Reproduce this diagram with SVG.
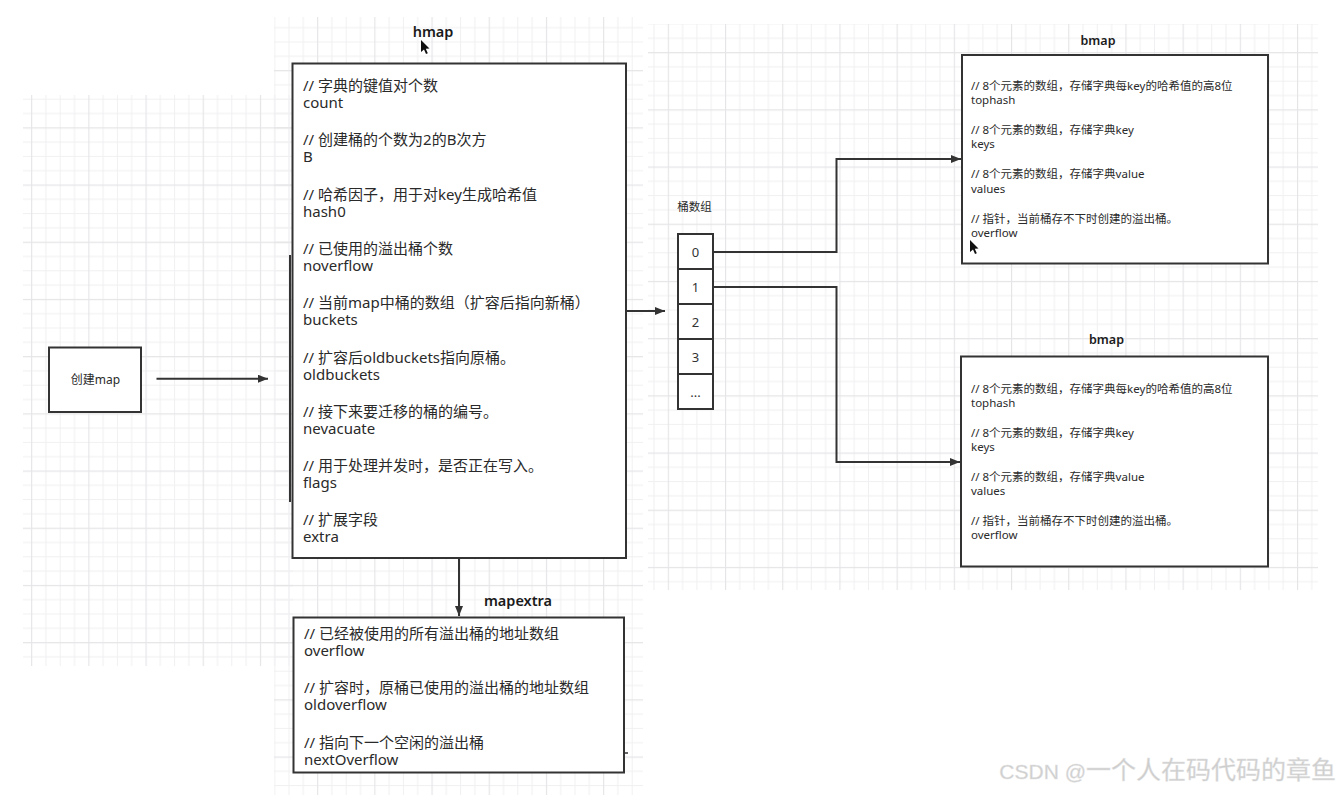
<svg xmlns="http://www.w3.org/2000/svg" width="1343" height="795" viewBox="0 0 1343 795">
<style>
.t{font-family:"Noto Sans","Noto Sans CJK SC",sans-serif;fill:#2a2a2a}
.b15{font-size:15px}
.b12{font-size:11.5px}
.title{font-weight:600;fill:#1a1a1a}
.box{fill:#fff;stroke:#333;stroke-width:2}
.cell{fill:#fff;stroke:#333;stroke-width:2}
.edge{fill:none;stroke:#333;stroke-width:2}
.num{font-family:"Noto Sans",sans-serif;font-size:13px;fill:#333;text-anchor:middle}
</style>
<defs>
<pattern id="grid" width="57.2" height="57.2" patternUnits="userSpaceOnUse" x="31.1" y="12.9">
<path d="M14.8 0V57.2M29.1 0V57.2M43.4 0V57.2M0 14.8H57.2M0 29.1H57.2M0 43.4H57.2" stroke="#f0f0f2" stroke-width="1"/>
<path d="M0.5 0V57.2M0 0.5H57.2" stroke="#e5e5e8" stroke-width="1.3"/>
</pattern>
<pattern id="grid2" width="57.2" height="57.2" patternUnits="userSpaceOnUse" x="38.6" y="52.1">
<path d="M14.8 0V57.2M29.1 0V57.2M43.4 0V57.2M0 14.8H57.2M0 29.1H57.2M0 43.4H57.2" stroke="#f0f0f2" stroke-width="1"/>
<path d="M0.5 0V57.2M0 0.5H57.2" stroke="#e5e5e8" stroke-width="1.3"/>
</pattern>
<marker id="arr" viewBox="0 0 10 8" refX="10" refY="4" markerWidth="10" markerHeight="8" markerUnits="userSpaceOnUse" orient="auto">
<path d="M0,0 L10,4 L0,8 Z" fill="#333"/>
</marker>
</defs>
<rect width="1343" height="795" fill="#fff"/>
<g id="background">
<rect x="23" y="95" width="270" height="571" fill="url(#grid)"/>
<rect x="274" y="17" width="369" height="778" fill="url(#grid)"/>
<rect x="648" y="24" width="670" height="566" fill="url(#grid2)"/>
</g>

<g id="create-map">
<rect class="box" x="49" y="347.5" width="92" height="64.5"/>
<text class="t" font-size="12" x="95.5" y="383.5" text-anchor="middle">创建map</text>
</g>

<g id="hmap">
<text class="t title" x="433" y="37" text-anchor="middle" font-size="14.5">hmap</text>
<line x1="290" y1="255" x2="290" y2="502" stroke="#333" stroke-width="2"/>
<rect class="box" x="292.5" y="63.5" width="333.5" height="494.5"/>
<text class="t b15">
<tspan x="303" y="91">// 字典的键值对个数</tspan>
<tspan x="303" y="108">count</tspan>
<tspan x="303" y="145.3">// 创建桶的个数为2的B次方</tspan>
<tspan x="303" y="162.3">B</tspan>
<tspan x="303" y="199.6">// 哈希因子，用于对key生成哈希值</tspan>
<tspan x="303" y="216.6">hash0</tspan>
<tspan x="303" y="253.9">// 已使用的溢出桶个数</tspan>
<tspan x="303" y="270.9">noverflow</tspan>
<tspan x="303" y="308.2">// 当前map中桶的数组（扩容后指向新桶）</tspan>
<tspan x="303" y="325.2">buckets</tspan>
<tspan x="303" y="362.5">// 扩容后oldbuckets指向原桶。</tspan>
<tspan x="303" y="379.5">oldbuckets</tspan>
<tspan x="303" y="416.8">// 接下来要迁移的桶的编号。</tspan>
<tspan x="303" y="433.8">nevacuate</tspan>
<tspan x="303" y="471.1">// 用于处理并发时，是否正在写入。</tspan>
<tspan x="303" y="488.1">flags</tspan>
<tspan x="303" y="525.4">// 扩展字段</tspan>
<tspan x="303" y="542.4">extra</tspan>
</text>
<path d="M421,40 L421,52 L424,49.5 L426,54 L427.8,53.2 L425.8,48.8 L429.5,48.5 Z" fill="#111"/>
</g>

<g id="mapextra">
<text class="t title" x="518" y="606" text-anchor="middle" font-size="14.5">mapextra</text>
<rect class="box" x="293.5" y="617.5" width="330.5" height="155"/>
<line x1="624" y1="753" x2="628" y2="753" stroke="#333" stroke-width="1.5"/>
<text class="t b15">
<tspan x="304" y="638.5">// 已经被使用的所有溢出桶的地址数组</tspan>
<tspan x="304" y="655.5">overflow</tspan>
<tspan x="304" y="693">// 扩容时，原桶已使用的溢出桶的地址数组</tspan>
<tspan x="304" y="710">oldoverflow</tspan>
<tspan x="304" y="748">// 指向下一个空闲的溢出桶</tspan>
<tspan x="304" y="765">nextOverflow</tspan>
</text>
</g>

<g id="buckets">
<text class="t" x="694.5" y="211" text-anchor="middle" font-size="11.5" fill="#333">桶数组</text>
<rect class="cell" x="678" y="234" width="35" height="35"/>
<rect class="cell" x="678" y="269" width="35" height="35"/>
<rect class="cell" x="678" y="304" width="35" height="35"/>
<rect class="cell" x="678" y="339" width="35" height="35"/>
<rect class="cell" x="678" y="374" width="35" height="35"/>
<text class="num" x="695.5" y="256.5">0</text>
<text class="num" x="695.5" y="291.5">1</text>
<text class="num" x="695.5" y="326.5">2</text>
<text class="num" x="695.5" y="361.5">3</text>
<text class="num" x="695.5" y="397">...</text>
</g>

<g id="bmap1">
<text class="t title" x="1098" y="45" text-anchor="middle" font-size="12.5">bmap</text>
<rect class="box" x="962" y="55" width="306" height="208.5"/>
<text class="t b12">
<tspan x="971" y="90">// 8个元素的数组，存储字典每key的哈希值的高8位</tspan>
<tspan x="971" y="104.2">tophash</tspan>
<tspan x="971" y="134.2">// 8个元素的数组，存储字典key</tspan>
<tspan x="971" y="148.4">keys</tspan>
<tspan x="971" y="178.4">// 8个元素的数组，存储字典value</tspan>
<tspan x="971" y="192.6">values</tspan>
<tspan x="971" y="223">// 指针，当前桶存不下时创建的溢出桶。</tspan>
<tspan x="971" y="237.2">overflow</tspan>
</text>
<path d="M970,240 L970,252 L973,249.5 L975,254 L976.8,253.2 L974.8,248.8 L978.5,248.5 Z" fill="#111"/>
</g>

<g id="bmap2">
<text class="t title" x="1106.5" y="343.5" text-anchor="middle" font-size="12.5">bmap</text>
<rect class="box" x="961" y="356.5" width="307" height="210"/>
<text class="t b12">
<tspan x="971" y="392.5">// 8个元素的数组，存储字典每key的哈希值的高8位</tspan>
<tspan x="971" y="406.7">tophash</tspan>
<tspan x="971" y="436.9">// 8个元素的数组，存储字典key</tspan>
<tspan x="971" y="451.1">keys</tspan>
<tspan x="971" y="480.9">// 8个元素的数组，存储字典value</tspan>
<tspan x="971" y="495.1">values</tspan>
<tspan x="971" y="524.5">// 指针，当前桶存不下时创建的溢出桶。</tspan>
<tspan x="971" y="538.7">overflow</tspan>
</text>
</g>

<g id="connectors">
<path class="edge" d="M156.5 378.7 H268" marker-end="url(#arr)"/>
<path class="edge" d="M626 311 H665" marker-end="url(#arr)"/>
<path class="edge" d="M459 558 V616" marker-end="url(#arr)"/>
<path class="edge" d="M713 252 H836.5 V159 H961" marker-end="url(#arr)"/>
<path class="edge" d="M713 287 H836.5 V462 H960" marker-end="url(#arr)"/>
</g>

<g id="watermark">
<text x="1336" y="779" text-anchor="end" fill="#cdcdcd" stroke="#e4e4e4" stroke-width="0.4" font-family="'Liberation Sans','Noto Sans CJK SC',sans-serif"><tspan font-size="21">CSDN @</tspan><tspan font-size="25" font-family="'Noto Sans CJK SC',sans-serif">一个人在码代码的章鱼</tspan></text>
</g>
</svg>
